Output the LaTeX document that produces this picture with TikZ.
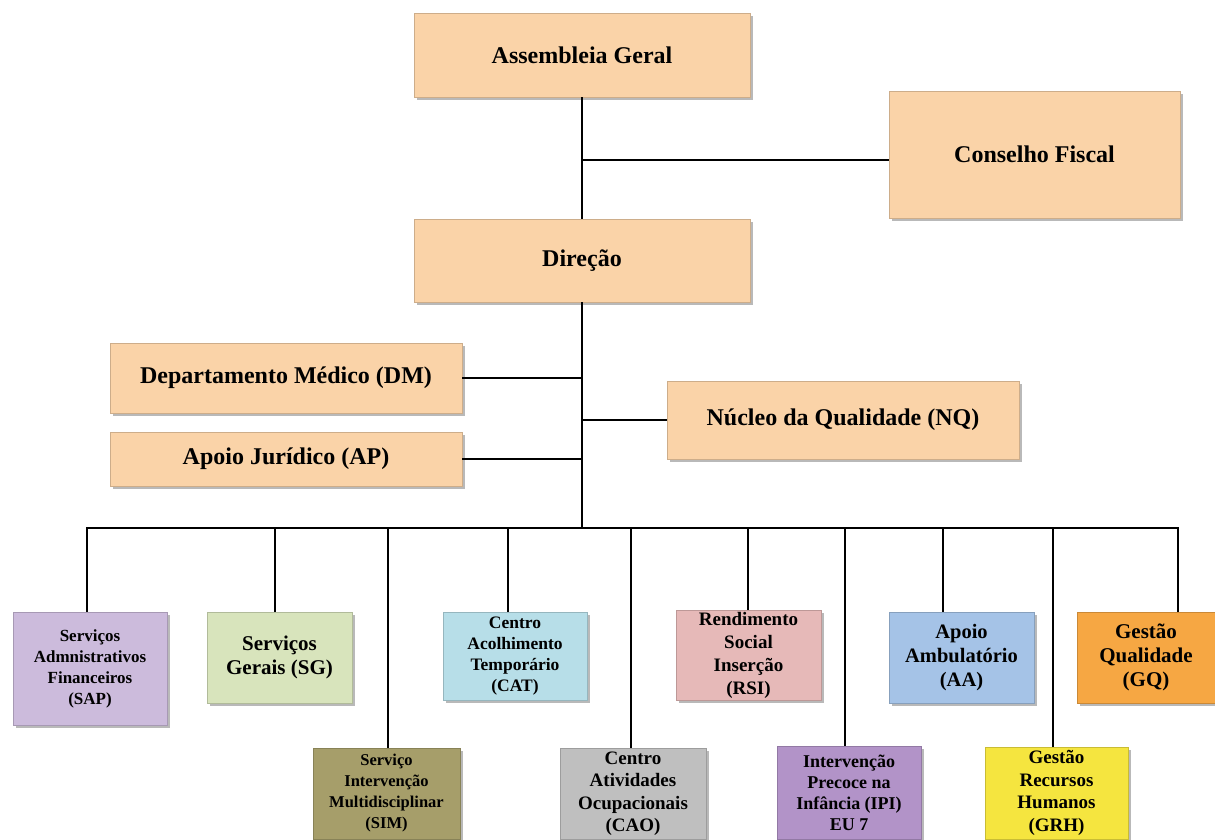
\documentclass[tikz,border=0pt]{standalone}
\usepackage{fontspec}
\setmainfont{Liberation Serif}
\usetikzlibrary{shadows}

\definecolor{pessego}{HTML}{FAD3A8}
\definecolor{lilas}{HTML}{CCBBDC}
\definecolor{verdeclaro}{HTML}{D8E4BC}
\definecolor{azulclaro}{HTML}{B7DEE8}
\definecolor{rosa}{HTML}{E6B9B8}
\definecolor{azul}{HTML}{A5C3E7}
\definecolor{laranja}{HTML}{F6A743}
\definecolor{oliva}{HTML}{A69E6A}
\definecolor{cinza}{HTML}{BFBFBF}
\definecolor{roxo}{HTML}{B293C8}
\definecolor{amarelo}{HTML}{F5E53F}

\newcommand{\fgrande}{\fontsize{24}{28}\selectfont}

\tikzset{
  caixa/.style={rectangle, fill=#1, draw=#1!82!black, line width=0.6pt,
    align=center, inner sep=0pt, font=\bfseries,
    drop shadow={shadow xshift=2.5pt, shadow yshift=-2.5pt, fill=black!50, opacity=0.55}},
  ligacao/.style={line width=2.3pt, black},
}

\begin{document}
\begin{tikzpicture}[x=1pt, y=-1pt]
  \useasboundingbox (0,0) rectangle (1215,839);

  % topo
  \node[caixa=pessego, minimum width=336pt, minimum height=84pt, font=\bfseries\fgrande] (ag) at (582,55) {Assembleia Geral};
  \node[caixa=pessego, minimum width=291pt, minimum height=127pt, font=\bfseries\fgrande] (cf) at (1034.5,154.5) {Conselho Fiscal};
  \node[caixa=pessego, minimum width=336pt, minimum height=83pt, font=\bfseries\fgrande] (dir) at (582,260.5) {Direção};

  % apoio
  \node[caixa=pessego, minimum width=352pt, minimum height=70pt, font=\bfseries\fgrande] (dm) at (286,378) {Departamento Médico (DM)};
  \node[caixa=pessego, minimum width=352pt, minimum height=54pt, font=\bfseries\fgrande] (ap) at (286,459) {Apoio Jurídico (AP)};
  \node[caixa=pessego, minimum width=352pt, minimum height=78pt, font=\bfseries\fgrande] (nq) at (843,420) {Núcleo da Qualidade (NQ)};

  % servicos, fila de cima
  \node[caixa=lilas, minimum width=154pt, minimum height=113pt, font=\bfseries\fontsize{17}{21}\selectfont] (sap) at (90,668.5) {Serviços\\Admnistrativos\\Financeiros\\(SAP)};
  \node[caixa=verdeclaro, minimum width=145pt, minimum height=91pt, font=\bfseries\fontsize{21}{24}\selectfont] (sg) at (279.5,657.5) {Serviços\\Gerais (SG)};
  \node[caixa=azulclaro, minimum width=144pt, minimum height=88pt, font=\bfseries\fontsize{17.5}{21}\selectfont] (cat) at (515,656) {Centro\\Acolhimento\\Temporário\\(CAT)};
  \node[caixa=rosa, minimum width=145pt, minimum height=90pt, font=\bfseries\fontsize{19}{23}\selectfont] (rsi) at (748.5,655) {Rendimento\\Social\\Inserção\\(RSI)};
  \node[caixa=azul, minimum width=145pt, minimum height=91pt, font=\bfseries\fontsize{20.5}{24}\selectfont] (aa) at (961.5,657.5) {Apoio\\Ambulatório\\(AA)};
  \node[caixa=laranja, minimum width=138pt, minimum height=91pt, font=\bfseries\fontsize{21}{24}\selectfont] (gq) at (1146,657.5) {Gestão\\Qualidade\\(GQ)};

  % servicos, fila de baixo
  \node[caixa=oliva, minimum width=147pt, minimum height=91pt, font=\bfseries\fontsize{16.5}{21}\selectfont] (sim) at (386.5,793.5) {Serviço\\Intervenção\\Multidisciplinar\\(SIM)};
  \node[caixa=cinza, minimum width=146pt, minimum height=91pt, font=\bfseries\fontsize{19}{22.5}\selectfont] (cao) at (633,793.5) {Centro\\Atividades\\Ocupacionais\\(CAO)};
  \node[caixa=roxo, minimum width=144pt, minimum height=93pt, font=\bfseries\fontsize{18}{21}\selectfont] (ipi) at (849,792.5) {Intervenção\\Precoce na\\Infância (IPI)\\EU 7};
  \node[caixa=amarelo, minimum width=143pt, minimum height=92pt, font=\bfseries\fontsize{19}{22.5}\selectfont] (grh) at (1056.5,793) {Gestão\\Recursos\\Humanos\\(GRH)};

  % ligacoes
  \coordinate (j1) at (582,160);
  \coordinate (bus) at (582,528);
  \draw[ligacao] (ag.south) -- (dir.north);
  \draw[ligacao] (j1) -- (j1 -| cf.west);
  \draw[ligacao] (dir.south) -- (bus);
  \draw[ligacao] (dm.east) -- (dm.east -| bus);
  \draw[ligacao] (ap.east) -- (ap.east -| bus);
  \draw[ligacao] (nq.west -| bus) -- (nq.west);

  \coordinate (dsap) at (87,528);
  \coordinate (dgq) at (1178,528);
  \draw[ligacao] (dsap |- sap.north) -- (dsap) -- (dgq) -- (dgq |- gq.north);
  \foreach \n/\x in {sg/275, sim/388, cat/508, cao/631, rsi/748, ipi/845, aa/943, grh/1053} {
    \coordinate (d\n) at (\x,528);
    \draw[ligacao] (d\n) -- (d\n |- \n.north);
  }
\end{tikzpicture}
\end{document}
